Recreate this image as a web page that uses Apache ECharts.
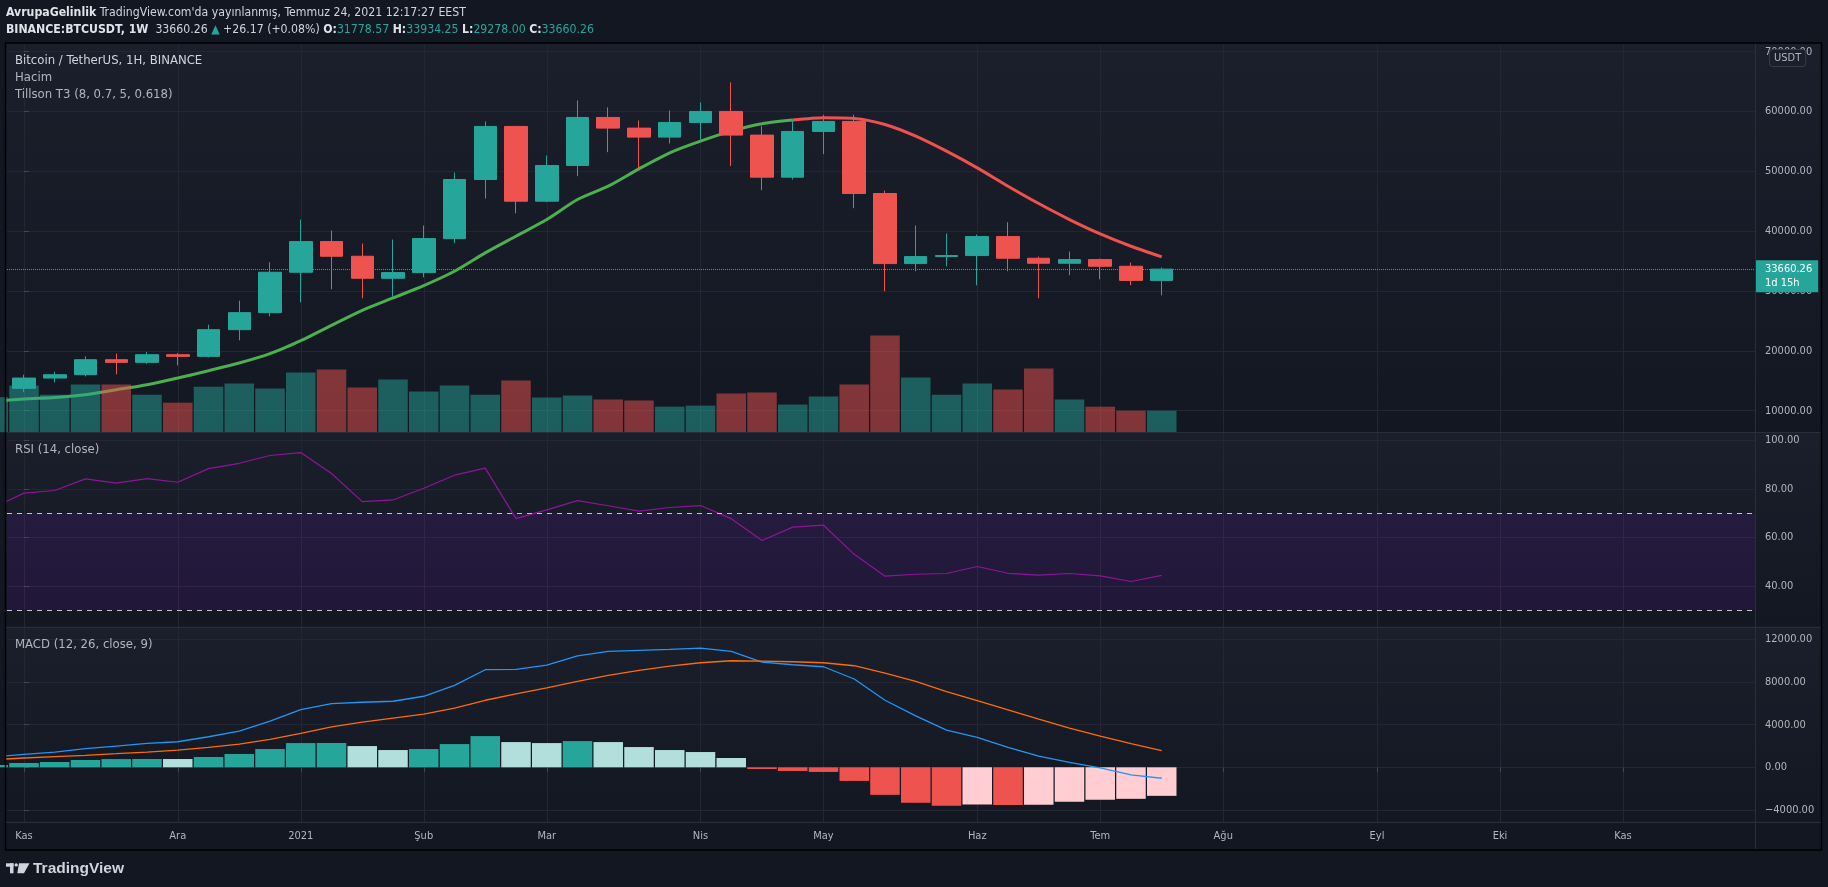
<!DOCTYPE html>
<html>
<head>
<meta charset="utf-8">
<title>BTCUSDT 1W</title>
<style>
  html, body { margin: 0; padding: 0; background: #131722; }
  #chart { width: 1828px; height: 887px; }
</style>
<script src="https://cdn.jsdelivr.net/npm/echarts@6/dist/echarts.min.js"></script>
</head>
<body>
<div id="chart"></div>
<script>
// weekly bars, first one (Oct 26) sits half outside the plot on the left
const weekStarts = ['2020-10-26', '2020-11-02', '2020-11-09', '2020-11-16', '2020-11-23', '2020-11-30',
  '2020-12-07', '2020-12-14', '2020-12-21', '2020-12-28', '2021-01-04', '2021-01-11', '2021-01-18',
  '2021-01-25', '2021-02-01', '2021-02-08', '2021-02-15', '2021-02-22', '2021-03-01', '2021-03-08',
  '2021-03-15', '2021-03-22', '2021-03-29', '2021-04-05', '2021-04-12', '2021-04-19', '2021-04-26',
  '2021-05-03', '2021-05-10', '2021-05-17', '2021-05-24', '2021-05-31', '2021-06-07', '2021-06-14',
  '2021-06-21', '2021-06-28', '2021-07-05', '2021-07-12', '2021-07-19'];

const opens = [13031, 13737, 15457, 16015, 18524, 18078, 19360, 19082, 23544, 26389, 33137, 38268, 35813,
  32133, 33081, 38769, 48640, 57508, 45015, 50983, 59013, 57229, 55723, 58177, 60017, 56058, 49030,
  56671, 58344, 46298, 34586, 35758, 35925, 39104, 35479, 34642, 35256, 34140, 31778.57];
const closes = [13737, 15457, 16015, 18524, 18078, 19360, 19082, 23544, 26389, 33137, 38268, 35813, 32133,
  33081, 38769, 48640, 57508, 45015, 50983, 59013, 57229, 55723, 58177, 60017, 56058, 49030, 56671,
  58344, 46298, 34586, 35758, 35925, 39104, 35479, 34642, 35256, 34140, 31778.57, 33660.26];
const highs = [14100, 16015, 16517, 19082, 19528, 19807, 19640, 24381, 28396, 34809, 41949, 40107, 37932,
  38602, 40944, 49811, 58344, 57600, 52656, 61858, 60686, 58511, 60185, 61523, 64869, 57563, 58679,
  59459, 59459, 46800, 40944, 39605, 39438, 41502, 35758, 36594, 35423, 34753, 33934.25];
const lows = [12950, 13100, 14733, 15737, 16070, 17855, 17576, 18915, 21759, 25774, 28117, 30292, 28787,
  29065, 32300, 37988, 45461, 43007, 44848, 49198, 53213, 50425, 54663, 55333, 50871, 46856, 48640,
  52879, 43844, 29958, 33303, 34140, 30961, 33303, 28787, 32635, 31965, 30961, 29278.00];
// volume, thousand BTC
const volumes = [262, 350, 282, 358, 358, 282, 222, 342, 365, 328, 448, 470, 335, 395, 305, 350, 282, 388,
  260, 275, 245, 238, 192, 200, 290, 298, 208, 268, 358, 725, 410, 282, 365, 320, 478, 245, 192, 162, 162];
const tillsonT3 = [11553, 11943, 12222, 12668, 13505, 14341, 15457, 16684, 17967, 19528, 21703, 24269, 26778,
  28842, 30905, 33303, 36371, 39159, 41948, 45294, 47525, 50425, 53102, 55054, 56727, 57954, 58567,
  58958, 58846, 57842, 55890, 53381, 50592, 47525, 44625, 41948, 39550, 37487, 35702];
const rsi = [72.3, 78.2, 79.3, 84.1, 82.3, 84.2, 82.7, 88.3, 90.5, 93.7, 94.9, 86.3, 74.7, 75.4, 80.2, 85.6,
  88.5, 67.7, 71.3, 75.1, 73.0, 70.8, 72.3, 73.1, 67.7, 58.7, 64.2, 65.0, 53.0, 44.0, 44.8, 45.1, 48.0,
  45.2, 44.4, 45.1, 44.1, 41.8, 44.3];
const macdLine = [965, 1214, 1432, 1743, 1992, 2241, 2397, 2864, 3393, 4327, 5417, 5977, 6101, 6195, 6662,
  7689, 9152, 9183, 9588, 10460, 10864, 10958, 11051, 11176, 10864, 9868, 9619, 9432, 8281, 6288, 4825,
  3487, 2802, 1868, 1058, 467, -62, -716, -1027];
const signalLine = [716, 872, 996, 1121, 1276, 1432, 1619, 1868, 2179, 2615, 3175, 3798, 4234, 4607, 4981,
  5541, 6288, 6880, 7440, 8063, 8623, 9090, 9495, 9806, 9993, 9962, 9899, 9806, 9526, 8841, 8063, 7098,
  6257, 5385, 4514, 3673, 2926, 2210, 1557];
const macdHist = [218, 405, 498, 685, 770, 780, 775, 965, 1245, 1712, 2272, 2280, 1992, 1619, 1712, 2179,
  2926, 2366, 2272, 2459, 2366, 1899, 1619, 1432, 872, -156, -342, -436, -1276, -2584, -3331, -3611,
  -3500, -3540, -3520, -3238, -3051, -2957, -2677];
const t3TurnIndex = 27; // T3 turns red from this array index on

const monthTicks = [0, 5, 9, 13, 17, 22, 26, 31, 35, 39, 44, 48, 52];
const monthLabels = ['Kas', 'Ara', '2021', 'Şub', 'Mar', 'Nis', 'May', 'Haz', 'Tem', 'Ağu', 'Eyl', 'Eki', 'Kas'];
const priceTicks = [10000, 20000, 30000, 40000, 50000, 60000, 70000];
const rsiTicks = [40, 60, 80, 100];
const macdTicks = [-4000, 0, 4000, 8000, 12000];
const lastPrice = 33660.26;

const FONT = '"DejaVu Sans Condensed", "Liberation Sans", sans-serif';
const UP = '#26a69a', DOWN = '#ef5350';
const GRID_LINE = '#242733', AXIS_LINE = '#2a2e39', TEXT = '#b2b5be';
const AXIS_FS = 11, HEAD_FS = 12.2, LEGEND_FS = 13;

const xOf = i => i - 1; // week number, 0 = 2020-11-02
const X_MIN = -0.553, X_MAX = 56.293;

const candles = opens.map((o, i) => [xOf(i), o, closes[i], lows[i], highs[i]]);
const volData = volumes.map((v, i) => ({
  value: [xOf(i), v],
  itemStyle: { color: closes[i] >= opens[i] ? 'rgba(38,166,154,0.5)' : 'rgba(239,83,80,0.5)' }
}));
const t3Up = tillsonT3.slice(0, t3TurnIndex).map((v, i) => [xOf(i), v]);
const t3Down = tillsonT3.slice(t3TurnIndex - 1).map((v, i) => [xOf(i + t3TurnIndex - 1), v]);
const rsiData = rsi.map((v, i) => [xOf(i), v]);
const macdData = macdLine.map((v, i) => [xOf(i), v]);
const signalData = signalLine.map((v, i) => [xOf(i), v]);
const histData = macdHist.map((v, i) => {
  const prev = i > 0 ? macdHist[i - 1] : -Infinity;
  let color;
  if (v >= 0) color = v >= prev ? '#26a69a' : '#b2dfdb';
  else color = v < prev ? '#ef5350' : '#ffcdd2';
  return { value: [xOf(i), v], itemStyle: { color } };
});

const fmt = v => (v < 0 ? '\u2212' + Math.abs(v).toFixed(2) : v.toFixed(2));

const panes = [
  { top: 43.3, height: 389 },
  { top: 432.7, height: 194.6 },
  { top: 627.3, height: 195 }
];

function xAxis(idx) {
  const last = idx === 2;
  return {
    type: 'value', gridIndex: idx, min: X_MIN, max: X_MAX,
    axisLine: { show: false },
    axisTick: { show: last, customValues: monthTicks, length: 5, lineStyle: { color: '#434651' } },
    axisLabel: {
      show: last, customValues: monthTicks, color: TEXT, fontSize: AXIS_FS, fontFamily: FONT, margin: 8,
      formatter: v => monthLabels[monthTicks.indexOf(v)] || ''
    },
    splitLine: { show: true, lineStyle: { color: GRID_LINE, width: 1 } }
  };
}

function yAxis(idx, min, max, ticks) {
  return {
    type: 'value', gridIndex: idx, position: 'right', min, max,
    axisLine: { show: false },
    axisTick: { show: true, customValues: ticks, length: 5, lineStyle: { color: '#434651' } },
    axisLabel: { customValues: ticks, color: TEXT, fontSize: AXIS_FS, fontFamily: FONT, margin: 10, formatter: fmt },
    splitLine: { show: true, lineStyle: { color: GRID_LINE, width: 1 } }
  };
}

const paneBg = {
  type: 'linear', x: 0, y: 0, x2: 0, y2: 1,
  colorStops: [{ offset: 0, color: '#1b1f2b' }, { offset: 1, color: '#131722' }]
};

const graphic = [];
panes.forEach(p => {
  graphic.push({ type: 'rect', z: -100, silent: true,
    shape: { x: 6, y: p.top, width: 1815, height: p.height }, style: { fill: paneBg } });
});
[432.5, 627.3, 822.3].forEach(y => {
  graphic.push({ type: 'line', z: 50, silent: true,
    shape: { x1: 6, y1: y, x2: 1821, y2: y }, style: { stroke: AXIS_LINE, lineWidth: 1.2 } });
});
graphic.push({ type: 'line', z: 50, silent: true,
  shape: { x1: 1755.5, y1: 43.3, x2: 1755.5, y2: 850 }, style: { stroke: AXIS_LINE, lineWidth: 1 } });
graphic.push({ type: 'rect', z: 60, silent: true,
  shape: { x: 5.5, y: 43, width: 1816, height: 807 }, style: { fill: null, stroke: '#000', lineWidth: 1.5 } });

// header
const headRich = {
  b: { fontWeight: 'bold', fill: '#e1e3ea', fontFamily: FONT, fontSize: HEAD_FS },
  r: { fill: '#d1d4dc', fontFamily: FONT, fontSize: HEAD_FS },
  g: { fill: UP, fontFamily: FONT, fontSize: HEAD_FS }
};
graphic.push({ type: 'text', z: 100, x: 6, y: 13, silent: true,
  style: { text: "{b|AvrupaGelinlik} {r|TradingView.com'da yayınlanmış, Temmuz 24, 2021 12:17:27 EEST}",
    rich: headRich, fontFamily: FONT, fontSize: HEAD_FS, fill: '#d1d4dc', verticalAlign: 'middle' } });
graphic.push({ type: 'text', z: 100, x: 6, y: 29.5, silent: true,
  style: { text: '{b|BINANCE:BTCUSDT, 1W}  {r|33660.26} {g|▲} {r|+26.17 (+0.08%)} {b|O:}{g|31778.57} {b|H:}{g|33934.25} {b|L:}{g|29278.00} {b|C:}{g|33660.26}',
    rich: headRich, fontFamily: FONT, fontSize: HEAD_FS, fill: '#d1d4dc', verticalAlign: 'middle' } });

// pane legends
const legend = (text, y, color, weight) => ({ type: 'text', z: 100, x: 15, y, silent: true,
  style: { text, fill: color, fontFamily: FONT, fontSize: LEGEND_FS, fontWeight: weight || 'normal', verticalAlign: 'middle' } });
graphic.push(legend('Bitcoin / TetherUS, 1H, BINANCE', 61, '#d1d4dc', '500'));
graphic.push(legend('Hacim', 78, TEXT));
graphic.push(legend('Tillson T3 (8, 0.7, 5, 0.618)', 94.5, TEXT));
graphic.push(legend('RSI (14, close)', 449.5, TEXT));
graphic.push(legend('MACD (12, 26, close, 9)', 645, TEXT));

// currency badge
graphic.push({ type: 'text', z: 100, x: 1770, y: 50, silent: true,
  style: { text: 'USDT', fill: TEXT, fontFamily: FONT, fontSize: AXIS_FS, backgroundColor: '#1b1f2b',
    borderColor: '#363a45', borderWidth: 1, borderRadius: 3, padding: [3, 4, 2, 4] } });

// TradingView footer logo
graphic.push({ type: 'group', z: 100, silent: true, children: [
  { type: 'rect', shape: { x: 6, y: 863.3, width: 7.5, height: 3.4 }, style: { fill: '#d1d4dc' } },
  { type: 'rect', shape: { x: 10, y: 863.3, width: 3.5, height: 10 }, style: { fill: '#d1d4dc' } },
  { type: 'circle', shape: { cx: 16.2, cy: 864.9, r: 1.7 }, style: { fill: '#d1d4dc' } },
  { type: 'polygon', shape: { points: [[19, 863.3], [29.5, 863.3], [24, 873.3], [17.3, 873.3]] }, style: { fill: '#d1d4dc' } },
  { type: 'text', x: 33, y: 868.5,
    style: { text: 'TradingView', fill: '#d1d4dc', fontFamily: '"Liberation Sans", sans-serif', fontSize: 15.5,
      fontWeight: 'bold', verticalAlign: 'middle' } }
] });

const option = {
  backgroundColor: '#131722',
  animation: false,
  grid: panes.map(p => ({ left: 7, right: 73, top: p.top, height: p.height })),
  xAxis: [xAxis(0), xAxis(1), xAxis(2)],
  yAxis: [
    yAxis(0, 6390, 71404, priceTicks),
    { type: 'value', gridIndex: 0, min: 0, max: 2915, show: false, splitLine: { show: false } },
    yAxis(1, 22.95, 103.1, rsiTicks),
    yAxis(2, -5158, 13130, macdTicks)
  ],
  graphic,
  series: [
    {
      name: 'Tillson T3', type: 'line', xAxisIndex: 0, yAxisIndex: 0, z: 1,
      data: t3Up, showSymbol: false, smooth: 0.25, lineStyle: { color: '#4caf50', width: 3 }
    },
    {
      name: 'Tillson T3 down', type: 'line', xAxisIndex: 0, yAxisIndex: 0, z: 1,
      data: t3Down, showSymbol: false, smooth: 0.25, lineStyle: { color: '#f0514e', width: 3 }
    },
    {
      name: 'Hacim', type: 'bar', xAxisIndex: 0, yAxisIndex: 1, z: 2,
      data: volData, barWidth: 29.5
    },
    {
      name: 'BTCUSDT', type: 'candlestick', xAxisIndex: 0, yAxisIndex: 0, z: 3,
      data: candles, encode: { x: 0, y: [1, 2, 3, 4] }, barWidth: 23,
      itemStyle: { color: UP, color0: DOWN, borderColor: UP, borderColor0: DOWN, borderWidth: 1 },
      markLine: {
        silent: true, symbol: ['none', 'none'], animation: false,
        lineStyle: { color: UP, type: 'dotted', width: 1 },
        label: {
          position: 'end', distance: 0, offset: [0, 7],
          formatter: '{a|33660.26}\n{b|1d 15h}',
          backgroundColor: UP, padding: [2, 6, 2, 10],
          rich: {
            a: { color: '#ffffff', fontFamily: FONT, fontSize: AXIS_FS, lineHeight: 14 },
            b: { color: '#ffffff', fontFamily: FONT, fontSize: AXIS_FS, lineHeight: 14 }
          }
        },
        data: [{ yAxis: lastPrice }]
      }
    },
    {
      name: 'RSI', type: 'line', xAxisIndex: 1, yAxisIndex: 2,
      data: rsiData, showSymbol: false, lineStyle: { color: '#8e1599', width: 1.2 },
      markArea: { silent: true, itemStyle: { color: 'rgba(153,21,255,0.1)' }, data: [[{ yAxis: 30 }, { yAxis: 70 }]] },
      markLine: {
        silent: true, symbol: ['none', 'none'], animation: false, label: { show: false },
        lineStyle: { color: '#c3c5cc', type: [5, 5], width: 1 },
        data: [{ yAxis: 70 }, { yAxis: 30 }]
      }
    },
    {
      name: 'Histogram', type: 'bar', xAxisIndex: 2, yAxisIndex: 3, z: 2,
      data: histData, barWidth: 29.5
    },
    {
      name: 'MACD', type: 'line', xAxisIndex: 2, yAxisIndex: 3, z: 3,
      data: macdData, showSymbol: false, lineStyle: { color: '#2196f3', width: 1.3 }
    },
    {
      name: 'Signal', type: 'line', xAxisIndex: 2, yAxisIndex: 3, z: 3,
      data: signalData, showSymbol: false, lineStyle: { color: '#ff6d00', width: 1.3 }
    }
  ]
};

const chart = echarts.init(document.getElementById('chart'));
chart.setOption(option);
window.addEventListener('resize', () => chart.resize());
</script>
</body>
</html>
